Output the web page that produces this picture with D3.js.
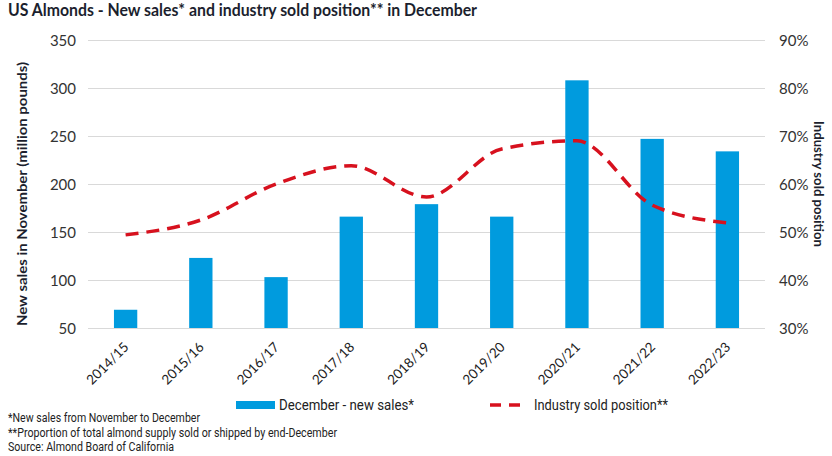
<!DOCTYPE html>
<html><head><meta charset="utf-8">
<script src="https://cdn.jsdelivr.net/npm/d3@7"></script>
<style>body{margin:0;background:#fff}svg{display:block}</style>
</head><body>
<script>
const categories = ["2014/15","2015/16","2016/17","2017/18","2018/19","2019/20","2020/21","2021/22","2022/23"];
const newSales = [69, 123, 103, 166, 179, 166, 308, 247, 234];
const soldPosition = [49.4, 52.5, 60.0, 63.8, 57.3, 67.3, 69.0, 55.6, 51.9];
const leftTicks = [50, 100, 150, 200, 250, 300, 350];
const rightTicks = [30, 40, 50, 60, 70, 80, 90];

const W = 832, H = 456;
const m = {left: 88, right: 765, top: 40, bottom: 328};
const svg = d3.select("body").append("svg").attr("width", W).attr("height", H);
const font = "Lato, 'Open Sans', sans-serif";
const narrow = "Roboto, 'Liberation Sans', sans-serif";

const x = d3.scaleBand().domain(categories).range([m.left, m.right]).paddingInner(0.69).paddingOuter(0.345);
const yL = d3.scaleLinear().domain([50, 350]).range([m.bottom, m.top]);
const yR = d3.scaleLinear().domain([30, 90]).range([m.bottom, m.top]);

// title
svg.append("text").attr("x", 8).attr("y", 16).attr("font-family", font).attr("font-weight", 700)
  .attr("font-size", 16.5).attr("fill", "#1c1f2e")
  .attr("textLength", 469).attr("lengthAdjust", "spacingAndGlyphs")
  .text("US Almonds - New sales* and industry sold position** in December");

// grid
svg.append("g").selectAll("line").data(leftTicks).join("line")
  .attr("x1", m.left).attr("x2", m.right)
  .attr("y1", d => Math.round(yL(d)) + 0.5).attr("y2", d => Math.round(yL(d)) + 0.5)
  .attr("stroke", "#d9d9d9").attr("stroke-width", 1);

// left axis
const gl = svg.append("g").attr("transform", `translate(${m.left - 12},0)`)
  .call(d3.axisLeft(yL).tickValues(leftTicks).tickSize(0).tickPadding(0));
gl.select(".domain").remove();
gl.selectAll("text").attr("font-family", font).attr("font-size", 15).attr("fill", "#333").attr("dy", "0.35em");

// right axis
const gr = svg.append("g").attr("transform", `translate(${m.right + 14},0)`)
  .call(d3.axisRight(yR).tickValues(rightTicks).tickSize(0).tickPadding(0).tickFormat(d => d + "%"));
gr.select(".domain").remove();
gr.selectAll("text").attr("font-family", font).attr("font-size", 15).attr("fill", "#333").attr("dy", "0.35em");

// x axis
const gx = svg.append("g").attr("transform", `translate(0,${m.bottom})`)
  .call(d3.axisBottom(x).tickSize(0).tickPadding(0));
gx.select(".domain").remove();
gx.selectAll("text").attr("font-family", font).attr("font-size", 13.5).attr("fill", "#222")
  .attr("text-anchor", "end").attr("dy", null)
  .attr("transform", "translate(4,20) rotate(-45)");

// axis titles
svg.append("text").attr("transform", `translate(27,${(m.top + m.bottom) / 2 + 10}) rotate(-90)`)
  .attr("text-anchor", "middle").attr("font-family", font).attr("font-weight", 700).attr("font-size", 13.5)
  .attr("fill", "#1c1f2e").attr("textLength", 264).attr("lengthAdjust", "spacingAndGlyphs")
  .text("New sales in November (million pounds)");
svg.append("text").attr("transform", `translate(814,${(m.top + m.bottom) / 2}) rotate(90)`)
  .attr("text-anchor", "middle").attr("font-family", font).attr("font-weight", 700).attr("font-size", 13)
  .attr("fill", "#1c1f2e").attr("textLength", 126).attr("lengthAdjust", "spacingAndGlyphs")
  .text("Industry sold position");

// bars
svg.append("g").selectAll("rect").data(categories).join("rect")
  .attr("x", d => x(d)).attr("width", x.bandwidth())
  .attr("y", (d, i) => yL(newSales[i])).attr("height", (d, i) => yL(50) - yL(newSales[i]))
  .attr("fill", "#009bde");

// line
const line = d3.line().x((d, i) => x(categories[i]) + x.bandwidth() / 2).y(d => yR(d)).curve(d3.curveMonotoneX);
svg.append("path").datum(soldPosition).attr("d", line).attr("fill", "none")
  .attr("stroke", "#d7111e").attr("stroke-width", 3.5).attr("stroke-dasharray", "13,8");

// legend
svg.append("rect").attr("x", 236).attr("y", 401).attr("width", 39).attr("height", 8).attr("fill", "#009bde");
svg.append("text").attr("x", 279).attr("y", 410).attr("font-family", narrow).attr("font-size", 15).attr("fill", "#222")
  .attr("textLength", 135).attr("lengthAdjust", "spacingAndGlyphs").text("December - new sales*");
svg.append("line").attr("x1", 490).attr("x2", 526).attr("y1", 405).attr("y2", 405)
  .attr("stroke", "#d7111e").attr("stroke-width", 3.5).attr("stroke-dasharray", "11,8");
svg.append("text").attr("x", 534).attr("y", 410).attr("font-family", narrow).attr("font-size", 15).attr("fill", "#222")
  .attr("textLength", 134).attr("lengthAdjust", "spacingAndGlyphs").text("Industry sold position**");

// footnotes
const notes = ["*New sales from November to December", "**Proportion of total almond supply sold or shipped by end-December", "Source: Almond Board of California"];
const noteLen = [192, 329, 166];
svg.append("g").selectAll("text").data(notes).join("text")
  .attr("x", 8).attr("y", (d, i) => 422 + i * 14.5)
  .attr("font-family", narrow).attr("font-size", 12.5).attr("fill", "#222")
  .attr("textLength", (d, i) => noteLen[i]).attr("lengthAdjust", "spacingAndGlyphs")
  .text(d => d);
</script>
</body></html>
